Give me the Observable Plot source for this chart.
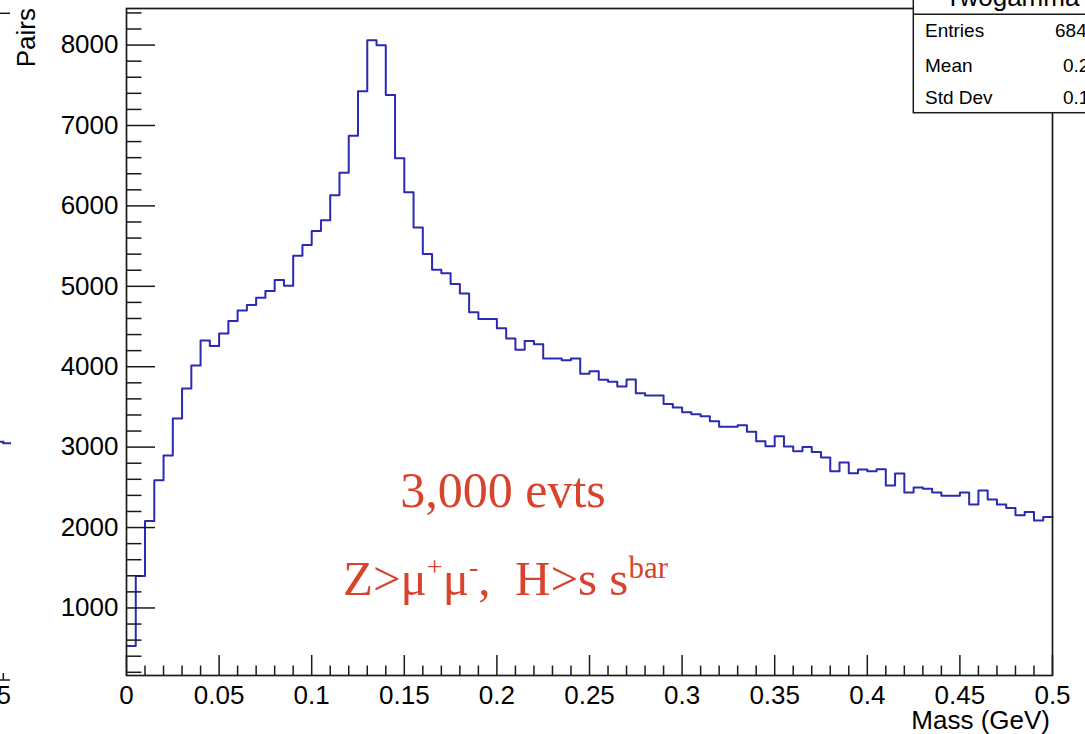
<!DOCTYPE html>
<html>
<head>
<meta charset="utf-8">
<script src="https://cdn.jsdelivr.net/npm/d3@7"></script>
<script src="https://cdn.jsdelivr.net/npm/@observablehq/plot@0.6"></script>
<style>
  html, body { margin: 0; padding: 0; background: #fff; overflow: hidden; }
  #chart svg { display: block; }
</style>
</head>
<body>
<div id="chart"></div>
<script>
// ---- Data (100 bins of 0.005 GeV) ----
const binWidth = 0.005;
const counts = [
  526, 1398, 2082, 2589, 2896, 3356, 3730, 4016, 4327, 4258,
  4414, 4568, 4700, 4767, 4858, 4941, 5078, 5007, 5380, 5513,
  5688, 5821, 6132, 6413, 6874, 7426, 8061, 7999, 7380, 6592,
  6169, 5731, 5403, 5205, 5161, 5028, 4912, 4676, 4592, 4592,
  4480, 4352, 4211, 4319, 4281, 4103, 4103, 4082, 4103, 3912,
  3945, 3837, 3812, 3755, 3842, 3671, 3643, 3643, 3535, 3493,
  3435, 3410, 3385, 3323, 3252, 3252, 3273, 3190, 3074, 3012,
  3136, 3008, 2950, 3003, 2941, 2871, 2701, 2809, 2676, 2722,
  2701, 2726, 2523, 2672, 2436, 2498, 2481, 2436, 2394, 2394,
  2436, 2286, 2460, 2349, 2286, 2244, 2153, 2194, 2087, 2132
];
const yTickValues = [1000, 2000, 3000, 4000, 5000, 6000, 7000, 8000];
const xTickValues = [0, 0.05, 0.1, 0.15, 0.2, 0.25, 0.3, 0.35, 0.4, 0.45, 0.5];
const xTickLabels = ["0", "0.05", "0.1", "0.15", "0.2", "0.25", "0.3", "0.35", "0.4", "0.45", "0.5"];
const statNames = ["Entries", "Mean", "Std Dev"];
const statValues = ["684", "0.2", "0.1"];
const histName = "Twogamma";
const xTitle = "Mass (GeV)";
const yTitle = "Pairs";
const note1 = "3,000 evts";

// ---- Layout ----
const W = 1085, H = 734;
const mL = 126, mR = 33, mT = 8, mB = 59;
const fw = W - mL - mR, fh = H - mT - mB;

const steps = counts.map((c, i) => ({x: i * binWidth, y: c}));
steps.push({x: counts.length * binWidth, y: counts[counts.length - 1]});

const yMinor = d3.range(200, 8500, 200).filter(v => v % 1000 !== 0);
const xMinor = d3.range(1, 50).map(i => i / 100).filter(v => Math.round(v * 100) % 5 !== 0);

const axisColor = "#1a1a1a";
const font = "'Liberation Sans', Arial, Helvetica, sans-serif";

const plot = Plot.plot({
  width: W, height: H,
  marginLeft: mL, marginRight: mR, marginTop: mT, marginBottom: mB,
  style: {fontFamily: font, fontSize: "26px", background: "white", color: "black", overflow: "visible"},
  x: {domain: [0, 0.5]},
  y: {domain: [160, 8455]},
  marks: [
    Plot.line(steps, {x: "x", y: "y", curve: "step-after", stroke: "#2a2ab2", strokeWidth: 2}),
    Plot.tickY(yMinor, {y: d => d, insetRight: fw - 15.5, stroke: axisColor, strokeWidth: 1.5}),
    Plot.tickY(yTickValues, {y: d => d, insetRight: fw - 29, stroke: axisColor, strokeWidth: 1.5}),
    Plot.tickX(xMinor, {x: d => d, insetTop: fh - 9.5, stroke: axisColor, strokeWidth: 1.5}),
    Plot.tickX(xTickValues, {x: d => d, insetTop: fh - 20, stroke: axisColor, strokeWidth: 1.5}),
    Plot.frame({stroke: axisColor, strokeWidth: 1.7}),
    Plot.axisY(yTickValues, {tickSize: 0, tickPadding: 8, tickFormat: d => String(d), label: null, fontSize: 26, fill: "black"}),
    Plot.axisX(xTickValues, {tickSize: 0, tickPadding: 10, tickFormat: d => xTickLabels[xTickValues.indexOf(d)], label: null, fontSize: 26, fill: "black"})
  ]
});

document.getElementById("chart").appendChild(plot);
const svg = d3.select(plot);

// Axis titles
svg.append("text")
  .attr("transform", "translate(35,8) rotate(-90)")
  .attr("text-anchor", "end")
  .attr("font-family", font).attr("font-size", 26).attr("fill", "black")
  .text(yTitle);
svg.append("text")
  .attr("x", W - mR - 2).attr("y", 729)
  .attr("text-anchor", "end")
  .attr("font-family", font).attr("font-size", 26).attr("fill", "black")
  .text(xTitle);

// Annotations
const red = "#d8432d";
const serif = "'Liberation Serif', 'DejaVu Serif', 'Times New Roman', serif";
svg.append("text")
  .attr("x", 503).attr("y", 507)
  .attr("text-anchor", "middle")
  .attr("font-family", serif).attr("font-size", 50).attr("fill", red)
  .text(note1);
const t2 = svg.append("text")
  .attr("x", 343).attr("y", 595)
  .attr("text-anchor", "start")
  .attr("font-family", serif).attr("font-size", 49).attr("fill", red)
  .style("white-space", "pre");
t2.append("tspan").text("Z>μ");
t2.append("tspan").attr("font-size", 28).attr("dy", -19).text("+");
t2.append("tspan").attr("dy", 19).text("μ");
t2.append("tspan").attr("font-size", 28).attr("dy", -19).text("-");
t2.append("tspan").attr("dy", 19).text(",  H>s s");
t2.append("tspan").attr("font-size", 31).attr("dy", -17).text("bar");

// Stats box (cut by the picture's edge)
const box = svg.append("g").attr("text-anchor", "start");
box.append("rect").attr("x", 913.3).attr("y", -30).attr("width", 220).attr("height", 142.7)
  .attr("fill", "white").attr("stroke", axisColor).attr("stroke-width", 1.5);
box.append("line").attr("x1", 913.3).attr("x2", W + 10).attr("y1", 14.3).attr("y2", 14.3)
  .attr("stroke", axisColor).attr("stroke-width", 1.5);
box.append("text").attr("x", 945).attr("y", 6).attr("text-anchor", "start")
  .attr("font-family", font).attr("font-size", 26).attr("fill", "black").text(histName);
const rowY = [37, 72, 104];
const valX = [1055, 1063, 1063];
statNames.forEach((n, i) => {
  box.append("text").attr("x", 925).attr("y", rowY[i]).attr("text-anchor", "start")
    .attr("font-family", font).attr("font-size", 19).attr("fill", "black").text(n);
  box.append("text").attr("x", valX[i]).attr("y", rowY[i]).attr("text-anchor", "start")
    .attr("font-family", font).attr("font-size", 19).attr("fill", "black").text(statValues[i]);
});

// Remnants of the neighbouring panel at the left edge
const rem = svg.append("g");
rem.append("line").attr("x1", 0).attr("x2", 10).attr("y1", 13.3).attr("y2", 13.3)
  .attr("stroke", axisColor).attr("stroke-width", 1.5);
rem.append("path").attr("d", "M0,441.7H3.3V443.3H11").attr("fill", "none")
  .attr("stroke", "#2a2ab2").attr("stroke-width", 2);
rem.append("path").attr("d", "M0,680H10M3.3,680V673").attr("fill", "none")
  .attr("stroke", axisColor).attr("stroke-width", 1.5);
rem.append("text").attr("x", 11).attr("y", 704).attr("text-anchor", "end")
  .attr("font-family", font).attr("font-size", 25).attr("fill", "black").text("5");
</script>
</body>
</html>
